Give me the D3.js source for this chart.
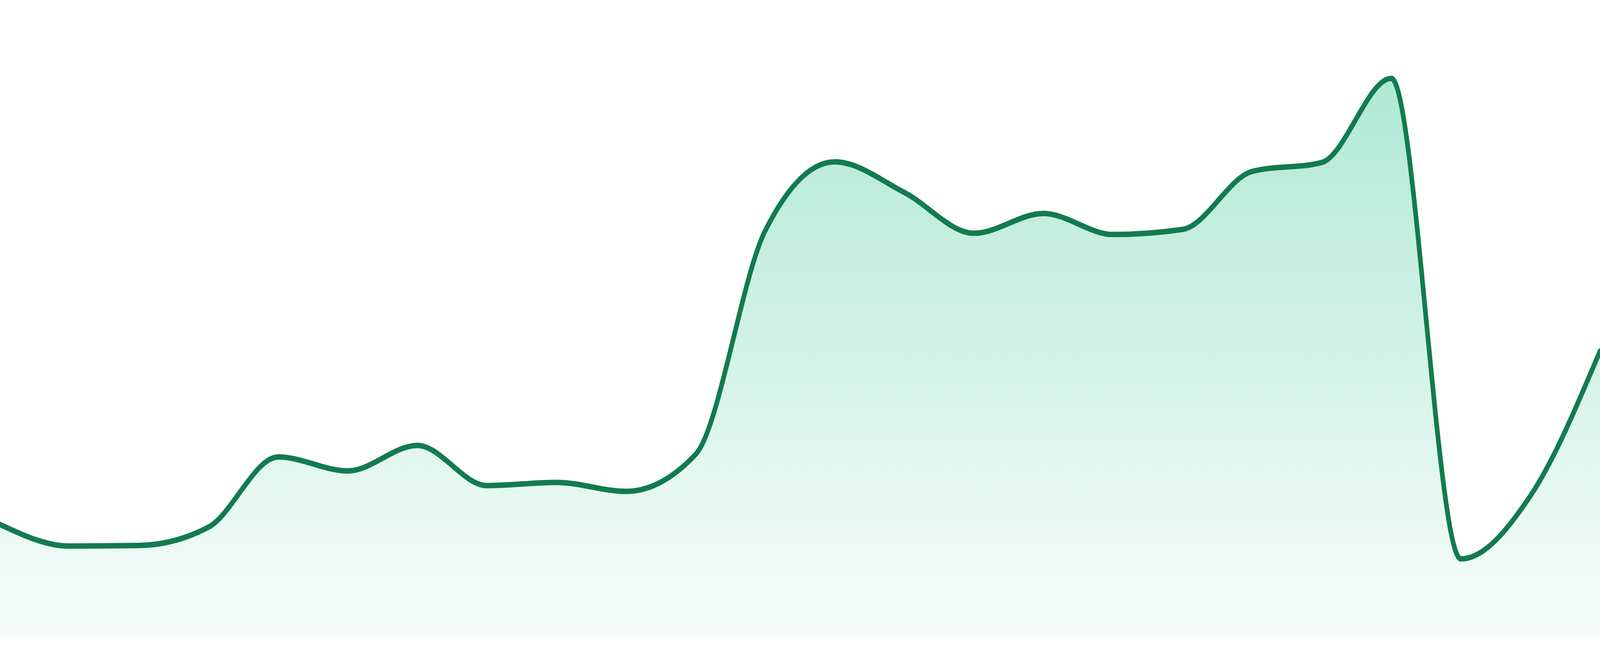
<!DOCTYPE html>
<html>
<head>
<meta charset="utf-8">
<script src="https://cdn.jsdelivr.net/npm/d3@7"></script>
<style>
  html, body { margin: 0; padding: 0; background: #fff; overflow: hidden; }
  svg { display: block; width: 100vw; height: 100vh; }
</style>
</head>
<body>
<div id="chart"></div>
<script>
// values, one per evenly spaced step
let values = [17.7, 14.3, 14.4, 17.3, 28.3, 26.1, 30.1, 23.8, 24.3, 22.9, 28.7, 63.8,
              74.6, 69.8, 63.4, 66.5, 63.2, 64.0, 73.1, 74.5, 87.7, 12.3, 22.2, 44.9];
let steps = values.map((v, i) => i);

const WIDTH = 4800;
const HEIGHT = 1680;
const BOTTOM = 1632;

// drawn in 4800x1680 units, stretched to whatever the window is
let svg = d3.select("#chart").append("svg")
    .attr("viewBox", `0 0 ${WIDTH} ${HEIGHT}`)
    .attr("preserveAspectRatio", "none");

let x = d3.scaleLinear().domain([0, steps.length - 1]).range([0, WIDTH]);
let y = d3.scaleLinear().domain([0, 100]).range([BOTTOM, 0]);

let grad = svg.append("defs").append("linearGradient")
    .attr("id", "fade")
    .attr("x1", 0).attr("y1", 0)
    .attr("x2", 0).attr("y2", 1);
grad.append("stop").attr("offset", "0%").attr("stop-color", "#10b981").attr("stop-opacity", 0.33);
grad.append("stop").attr("offset", "100%").attr("stop-color", "#10b981").attr("stop-opacity", 0.03);

let area = d3.area()
    .x((d, i) => x(steps[i]))
    .y0(y(0))
    .y1(d => y(d))
    .curve(d3.curveMonotoneX);

let line = d3.line()
    .x((d, i) => x(steps[i]))
    .y(d => y(d))
    .curve(d3.curveMonotoneX);

svg.append("path")
    .datum(values)
    .attr("d", area)
    .attr("fill", "url(#fade)");

svg.append("path")
    .datum(values)
    .attr("d", line)
    .attr("fill", "none")
    .attr("stroke", "#127b50")
    .attr("stroke-width", 14)
    .attr("stroke-linejoin", "round")
    .attr("stroke-linecap", "round");
</script>
</body>
</html>
